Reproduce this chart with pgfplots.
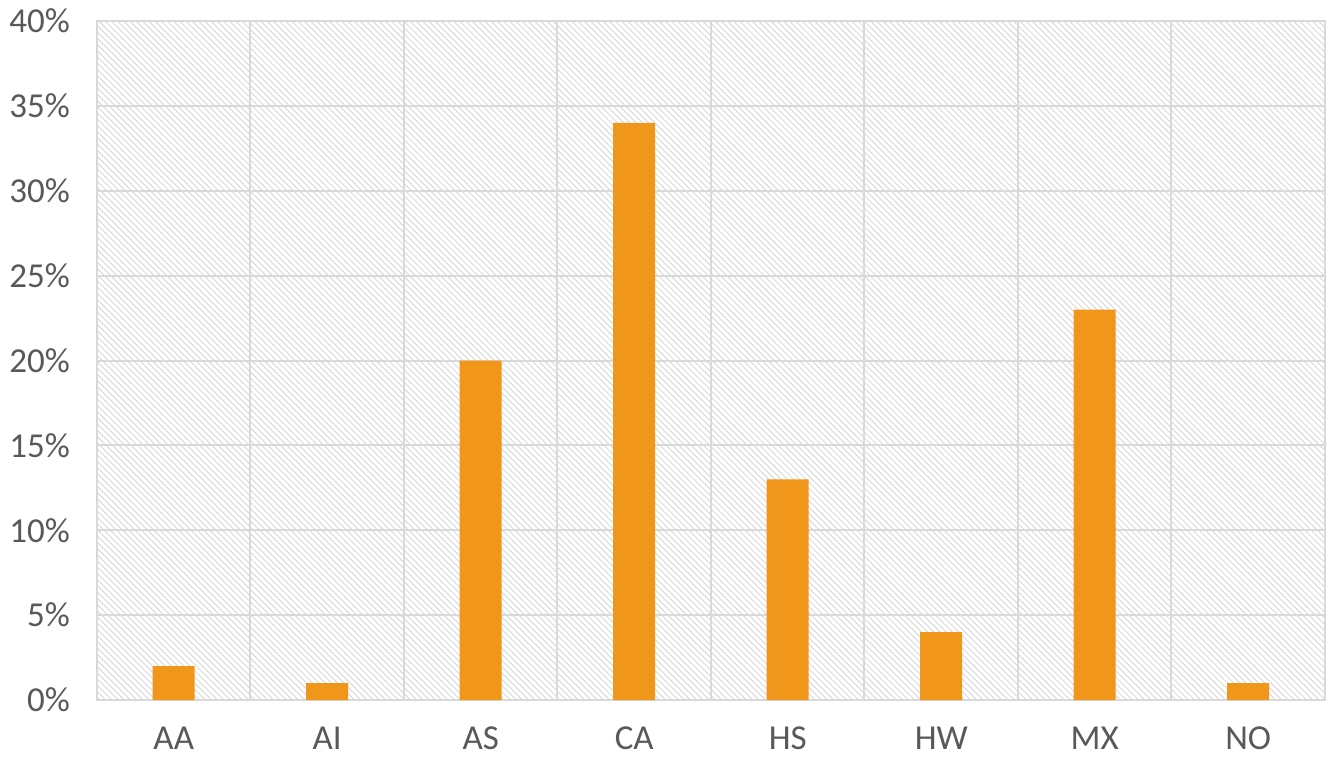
\documentclass[border=0pt]{standalone}
\usepackage{pgfplots}
\pgfplotsset{compat=1.18}
\usepackage{fontspec}
\setmainfont{Carlito}
\usetikzlibrary{patterns.meta}
\definecolor{bar}{RGB}{240,150,26}
\definecolor{txt}{RGB}{89,89,89}
\definecolor{grd}{RGB}{217,217,217}
\begin{document}
\begin{tikzpicture}
\useasboundingbox (-48.5pt,-28pt) rectangle (620pt,350pt);
\begin{axis}[
  at={(0,0)}, anchor=south west,
  scale only axis,
  width=614pt, height=339.5pt,
  xmin=-0.5, xmax=7.5,
  ymin=0, ymax=40,
  xtick={0,...,7},
  xticklabels={AA,AI,AS,CA,HS,HW,MX,NO},
  minor xtick={0.5,1.5,...,6.5},
  ytick={0,5,...,40},
  yticklabel={\pgfmathprintnumber{\tick}\%},
  /pgf/number format/assume math mode=true,
  xminorgrids=true, ymajorgrids=true,
  grid style={grd, line width=1pt},
  minor grid style={grd, line width=1pt},
  axis line style={grd, line width=1pt},
  major tick length=0pt, minor tick length=0pt,
  tick label style={font=\fontsize{17.5}{20}\selectfont, text=txt},
  yticklabel style={xshift=-10pt},
  xticklabel style={yshift=-10pt},
  axis background/.style={pattern={Lines[angle=-45,distance=2.2pt,line width=0.5pt]}, pattern color=grd},
  ybar, bar width=21pt,
]
\addplot[fill=bar, draw=none] coordinates {(0,2) (1,1) (2,20) (3,34) (4,13) (5,4) (6,23) (7,1)};
\end{axis}
\end{tikzpicture}
\end{document}
